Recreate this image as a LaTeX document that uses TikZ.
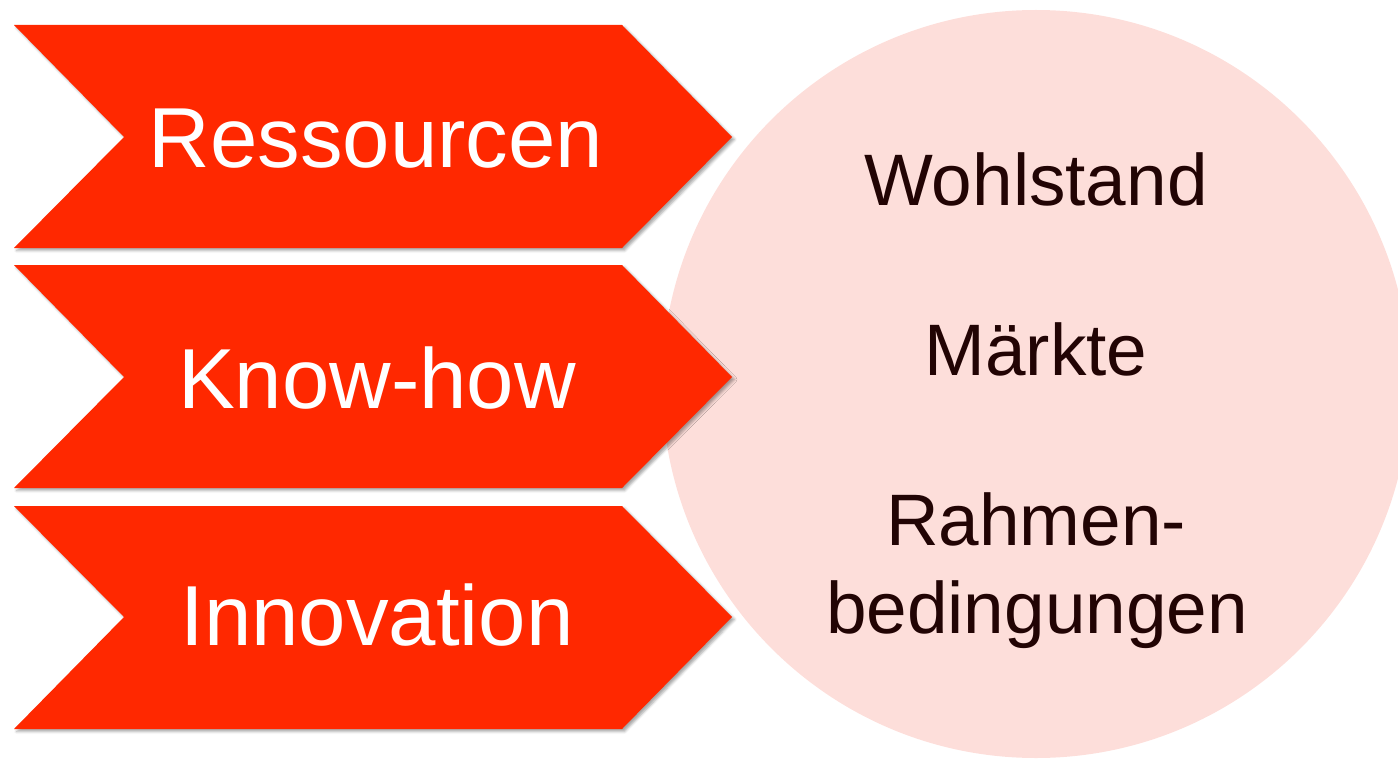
\documentclass[tikz,border=0pt]{standalone}
\usepackage{fontspec}
\setmainfont{Liberation Sans}
\usetikzlibrary{shadows.blur}
\definecolor{chevred}{HTML}{FF2800}
\definecolor{circpink}{HTML}{FDDEDA}
\definecolor{circtext}{HTML}{220404}
\tikzset{
	chevron/.style={fill=chevred, draw=none, blur shadow={shadow xshift=0.05cm, shadow yshift=-0.05cm, shadow blur radius=0.05cm, shadow opacity=35}},
	chevlabel/.style={anchor=base, text=white, inner sep=0pt, font=\fontsize{48.5}{58}\selectfont},
	circlabel/.style={anchor=base, text=circtext, inner sep=0pt, font=\fontsize{41.5}{50}\selectfont}
}
\begin{document}
\begin{tikzpicture}[x=0.02cm, y=-0.02cm]
			%%%%% START %%%%%
			\useasboundingbox (0, 0) rectangle (1398, 760);
			
			\fill[circpink] (1036, 384) circle (374);
			
			\draw[chevron] (14, 25) -- (622, 25) -- (732, 137) -- (622, 248) -- (14, 248) -- (124, 137) -- cycle;
			\draw[chevron] (14, 265) -- (622, 265) -- (732, 377) -- (622, 488) -- (14, 488) -- (124, 377) -- cycle;
			\draw[chevron] (14, 506) -- (622, 506) -- (732, 617) -- (622, 729) -- (14, 729) -- (124, 617) -- cycle;
			
			\node[chevlabel] (ressourcen) at (376, 168) {Ressourcen};
			\node[chevlabel] (knowhow) at (377, 408) {Know-how};
			\node[chevlabel] (innovation) at (377, 645) {Innovation};
			
			\node[circlabel] (wohlstand) at (1036, 205) {Wohlstand};
			\node[circlabel] (maerkte) at (1036, 375) {Märkte};
			\node[circlabel] (rahmen) at (1036, 545) {Rahmen-};
			\node[circlabel] (bedingungen) at (1037, 633) {bedingungen};
			
			%%%%% END %%%%%
		\end{tikzpicture}
\end{document}
